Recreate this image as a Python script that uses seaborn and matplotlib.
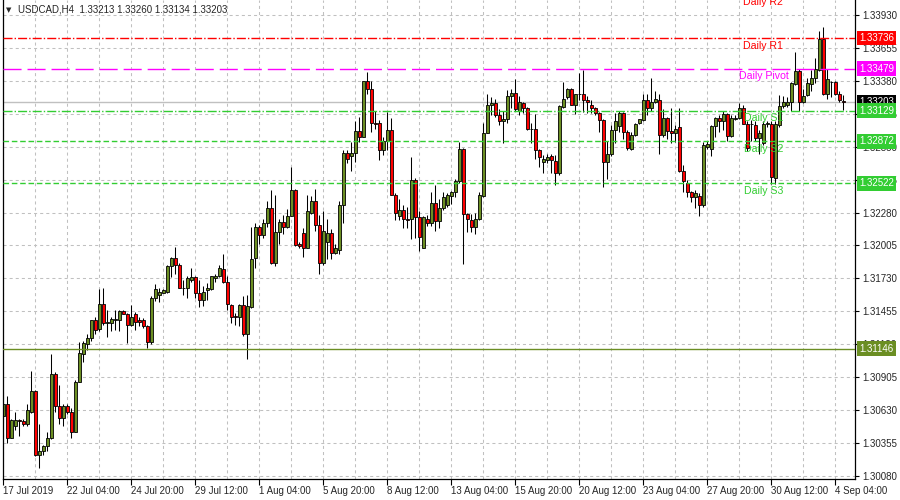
import matplotlib
matplotlib.use('Agg')
import numpy as np
import seaborn as sns
import matplotlib.pyplot as plt

# USDCAD H4 candles
opens = [
    1.3058, 1.3068, 1.3040, 1.3050, 1.3055, 1.3054, 1.3052, 1.3062, 1.3079, 1.3026,
    1.3029, 1.3033, 1.3040, 1.3093, 1.3067, 1.3057, 1.3067, 1.3062, 1.3045, 1.3087,
    1.3110, 1.3118, 1.3123, 1.3138, 1.3131, 1.3152, 1.3136, 1.3136, 1.3138, 1.3138,
    1.3146, 1.3143, 1.3134, 1.3143, 1.3138, 1.3138, 1.3133, 1.3120, 1.3157, 1.3159,
    1.3161, 1.3162, 1.3183, 1.3190, 1.3184, 1.3165, 1.3165, 1.3172, 1.3174, 1.3161,
    1.3155, 1.3163, 1.3164, 1.3173, 1.3175, 1.3181, 1.3170, 1.3151, 1.3142, 1.3141,
    1.3151, 1.3127, 1.3149, 1.3190, 1.3216, 1.3209, 1.3219, 1.3232, 1.3186, 1.3212,
    1.3220, 1.3216, 1.3225, 1.3247, 1.3202, 1.3211, 1.3198, 1.3228, 1.3238, 1.3218,
    1.3186, 1.3203, 1.3211, 1.3194, 1.3197, 1.3234, 1.3278, 1.3275, 1.3278, 1.3296,
    1.3291, 1.3338, 1.3331, 1.3303, 1.3303, 1.3280, 1.3288, 1.3297, 1.3243, 1.3225,
    1.3230, 1.3223, 1.3223, 1.3255, 1.3224, 1.3198, 1.3223, 1.3219, 1.3236, 1.3221,
    1.3232, 1.3234, 1.3242, 1.3245, 1.3254, 1.3281, 1.3227, 1.3222, 1.3216, 1.3223,
    1.3242, 1.3294, 1.3318, 1.3319, 1.3309, 1.3304, 1.3306, 1.3325, 1.3328, 1.3313,
    1.3319, 1.3315, 1.3298, 1.3298, 1.3280, 1.3270, 1.3272, 1.3275, 1.3271, 1.3261,
    1.3316, 1.3324, 1.3331, 1.3318, 1.3327, 1.3327, 1.3322, 1.3318, 1.3315, 1.3311,
    1.3305, 1.3270, 1.3277, 1.3297, 1.3300, 1.3311, 1.3295, 1.3281, 1.3293, 1.3303,
    1.3305, 1.3322, 1.3315, 1.3320, 1.3322, 1.3293, 1.3307, 1.3296, 1.3294, 1.3299,
    1.3263, 1.3253, 1.3245, 1.3241, 1.3242, 1.3234, 1.3283, 1.3281, 1.3300, 1.3307,
    1.3304, 1.3310, 1.3292, 1.3306, 1.3307, 1.3315, 1.3302, 1.3302, 1.3301, 1.3290,
    1.3286, 1.3302, 1.3302, 1.3257, 1.3301, 1.3317, 1.3318, 1.3320, 1.3335, 1.3346,
    1.3320, 1.3326, 1.3335, 1.3340, 1.3347, 1.3373, 1.3327, 1.3337, 1.3337, 1.3327,
    1.33213,
]
highs = [
    1.3078, 1.3075, 1.3056, 1.3062, 1.3056, 1.3056, 1.3068, 1.3096, 1.3080, 1.3052,
    1.3034, 1.3045, 1.3110, 1.3095, 1.3084, 1.3068, 1.3068, 1.3065, 1.3088, 1.3120,
    1.3121, 1.3127, 1.3138, 1.3141, 1.3164, 1.3165, 1.3147, 1.3141, 1.3147, 1.3147,
    1.3147, 1.3144, 1.3151, 1.3145, 1.3141, 1.3140, 1.3134, 1.3158, 1.3168, 1.3165,
    1.3164, 1.3184, 1.3191, 1.3199, 1.3186, 1.3172, 1.3175, 1.3182, 1.3175, 1.3172,
    1.3167, 1.3169, 1.3175, 1.3177, 1.3184, 1.3193, 1.3175, 1.3152, 1.3144, 1.3152,
    1.3158, 1.3159, 1.3216, 1.3219, 1.3218, 1.3223, 1.3238, 1.3247, 1.3243, 1.3223,
    1.3226, 1.3231, 1.3266, 1.3248, 1.3203, 1.3215, 1.3243, 1.3242, 1.3248, 1.3226,
    1.3229, 1.3223, 1.3214, 1.3202, 1.3238, 1.3280, 1.3280, 1.3287, 1.3304, 1.3308,
    1.3338, 1.3345, 1.3338, 1.3313, 1.3305, 1.3291, 1.3312, 1.3307, 1.3244, 1.3239,
    1.3234, 1.3233, 1.3274, 1.3257, 1.3229, 1.3225, 1.3226, 1.3245, 1.3251, 1.3239,
    1.3245, 1.3244, 1.3246, 1.3256, 1.3287, 1.3282, 1.3228, 1.3227, 1.3228, 1.3245,
    1.3303, 1.3327, 1.3324, 1.3323, 1.3314, 1.3313, 1.3330, 1.3331, 1.3339, 1.3325,
    1.3320, 1.3316, 1.3303, 1.3310, 1.3281, 1.3276, 1.3277, 1.3277, 1.3276, 1.3318,
    1.3337, 1.3332, 1.3332, 1.3327, 1.3344, 1.3347, 1.3325, 1.3322, 1.3316, 1.3312,
    1.3306, 1.3288, 1.3301, 1.3311, 1.3313, 1.3312, 1.3297, 1.3295, 1.3303, 1.3306,
    1.3327, 1.3327, 1.3340, 1.3329, 1.3327, 1.3314, 1.3308, 1.3315, 1.3301, 1.3315,
    1.3268, 1.3255, 1.3246, 1.3247, 1.3244, 1.3287, 1.3288, 1.3301, 1.3308, 1.3309,
    1.3313, 1.3311, 1.3309, 1.3309, 1.3319, 1.3318, 1.3304, 1.3305, 1.3304, 1.3297,
    1.3304, 1.3304, 1.3304, 1.3304, 1.3326, 1.3325, 1.3324, 1.3337, 1.3362, 1.3348,
    1.3331, 1.3340, 1.3347, 1.3357, 1.3379, 1.3383, 1.3348, 1.3338, 1.3338, 1.3329,
    1.33260,
]
lows = [
    1.3053, 1.3036, 1.3040, 1.3047, 1.3042, 1.3050, 1.3050, 1.3061, 1.3025, 1.3015,
    1.3026, 1.3029, 1.3039, 1.3062, 1.3052, 1.3050, 1.3060, 1.3040, 1.3045, 1.3087,
    1.3103, 1.3113, 1.3121, 1.3127, 1.3129, 1.3134, 1.3124, 1.3129, 1.3130, 1.3129,
    1.3143, 1.3119, 1.3133, 1.3130, 1.3133, 1.3132, 1.3115, 1.3118, 1.3154, 1.3153,
    1.3161, 1.3161, 1.3174, 1.3177, 1.3165, 1.3159, 1.3157, 1.3170, 1.3157, 1.3149,
    1.3150, 1.3155, 1.3163, 1.3170, 1.3174, 1.3169, 1.3147, 1.3136, 1.3134, 1.3133,
    1.3125, 1.3106, 1.3148, 1.3182, 1.3202, 1.3207, 1.3216, 1.3185, 1.3183, 1.3202,
    1.3210, 1.3215, 1.3225, 1.3200, 1.3198, 1.3191, 1.3198, 1.3227, 1.3213, 1.3177,
    1.3184, 1.3189, 1.3189, 1.3193, 1.3193, 1.3219, 1.3269, 1.3263, 1.3270, 1.3287,
    1.3291, 1.3327, 1.3295, 1.3298, 1.3272, 1.3276, 1.3280, 1.3243, 1.3222, 1.3222,
    1.3215, 1.3215, 1.3206, 1.3207, 1.3196, 1.3198, 1.3217, 1.3217, 1.3213, 1.3215,
    1.3230, 1.3233, 1.3235, 1.3241, 1.3253, 1.3185, 1.3212, 1.3212, 1.3210, 1.3222,
    1.3241, 1.3294, 1.3309, 1.3308, 1.3301, 1.3286, 1.3303, 1.3315, 1.3313, 1.3309,
    1.3311, 1.3297, 1.3286, 1.3273, 1.3266, 1.3261, 1.3269, 1.3261, 1.3251, 1.3259,
    1.3315, 1.3323, 1.3318, 1.3310, 1.3322, 1.3312, 1.3311, 1.3311, 1.3309, 1.3295,
    1.3249, 1.3256, 1.3275, 1.3286, 1.3295, 1.3289, 1.3280, 1.3280, 1.3292, 1.3302,
    1.3304, 1.3309, 1.3313, 1.3319, 1.3277, 1.3291, 1.3289, 1.3286, 1.3287, 1.3262,
    1.3245, 1.3241, 1.3237, 1.3232, 1.3225, 1.3233, 1.3281, 1.3275, 1.3291, 1.3295,
    1.3297, 1.3288, 1.3291, 1.3305, 1.3306, 1.3302, 1.3279, 1.3288, 1.3288, 1.3277,
    1.3284, 1.3299, 1.3252, 1.3252, 1.3299, 1.3315, 1.3316, 1.3313, 1.3334, 1.3313,
    1.3319, 1.3325, 1.3329, 1.3336, 1.3346, 1.3326, 1.3323, 1.3324, 1.3326, 1.3320,
    1.33134,
]
closes = [
    1.3068, 1.3040, 1.3055, 1.3055, 1.3054, 1.3052, 1.3063, 1.3079, 1.3026, 1.3029,
    1.3033, 1.3040, 1.3093, 1.3067, 1.3057, 1.3067, 1.3062, 1.3045, 1.3087, 1.3111,
    1.3119, 1.3123, 1.3138, 1.3130, 1.3152, 1.3136, 1.3137, 1.3139, 1.3139, 1.3146,
    1.3143, 1.3134, 1.3141, 1.3137, 1.3137, 1.3133, 1.3120, 1.3157, 1.3164, 1.3162,
    1.3163, 1.3183, 1.3190, 1.3184, 1.3165, 1.3165, 1.3173, 1.3174, 1.3161, 1.3155,
    1.3162, 1.3165, 1.3175, 1.3175, 1.3182, 1.3170, 1.3152, 1.3141, 1.3141, 1.3151,
    1.3127, 1.3150, 1.3189, 1.3216, 1.3209, 1.3219, 1.3232, 1.3186, 1.3212, 1.3220,
    1.3216, 1.3225, 1.3247, 1.3201, 1.3200, 1.3198, 1.3229, 1.3238, 1.3218, 1.3186,
    1.3213, 1.3211, 1.3194, 1.3198, 1.3234, 1.3278, 1.3273, 1.3278, 1.3296, 1.3291,
    1.3338, 1.3331, 1.3303, 1.3302, 1.3280, 1.3288, 1.3297, 1.3243, 1.3228, 1.3230,
    1.3223, 1.3222, 1.3255, 1.3224, 1.3208, 1.3224, 1.3219, 1.3236, 1.3221, 1.3232,
    1.3241, 1.3243, 1.3245, 1.3254, 1.3281, 1.3227, 1.3223, 1.3216, 1.3223, 1.3243,
    1.3294, 1.3318, 1.3319, 1.3309, 1.3304, 1.3306, 1.3325, 1.3328, 1.3314, 1.3320,
    1.3315, 1.3298, 1.3298, 1.3280, 1.3274, 1.3273, 1.3274, 1.3272, 1.3261, 1.3317,
    1.3323, 1.3331, 1.3318, 1.3327, 1.3327, 1.3322, 1.3320, 1.3315, 1.3311, 1.3305,
    1.3270, 1.3277, 1.3297, 1.3304, 1.3311, 1.3295, 1.3282, 1.3293, 1.3302, 1.3306,
    1.3322, 1.3315, 1.3320, 1.3323, 1.3293, 1.3307, 1.3296, 1.3294, 1.3298, 1.3263,
    1.3254, 1.3245, 1.3241, 1.3244, 1.3234, 1.3284, 1.3285, 1.3300, 1.3307, 1.3304,
    1.3310, 1.3292, 1.3307, 1.3307, 1.3315, 1.3302, 1.3282, 1.3302, 1.3290, 1.3294,
    1.3302, 1.3303, 1.3258, 1.3302, 1.3317, 1.3320, 1.3320, 1.3336, 1.3346, 1.3320,
    1.3325, 1.3336, 1.3340, 1.3348, 1.3373, 1.3327, 1.3339, 1.3337, 1.3327, 1.3322,
    1.33203,
]

date_labels = ['17 Jul 2019', '22 Jul 04:00', '24 Jul 20:00', '29 Jul 12:00',
               '1 Aug 04:00', '5 Aug 20:00', '8 Aug 12:00', '13 Aug 04:00',
               '15 Aug 20:00', '20 Aug 12:00', '23 Aug 04:00', '27 Aug 20:00',
               '30 Aug 12:00', '4 Sep 04:00']
price_ticks = [1.33930, 1.33655, 1.33380, 1.33105, 1.32830, 1.32555, 1.32280,
               1.32005, 1.31730, 1.31455, 1.31180, 1.30905, 1.30630, 1.30355, 1.30080]

level_names = ['Daily R2', 'Daily R1', 'Daily Pivot', 'Daily S1', 'Daily S2', 'Daily S3']
level_prices = [1.34100, 1.33736, 1.33479, 1.33129, 1.32872, 1.32522]
support_price = 1.31146

RED = '#FF0000'
MAGENTA = '#FF00FF'
LIME = '#32CD32'
OLIVE = '#6B8E23'
GRID = '#C0C0C0'

sns.set_theme(style='white')
plt.rcParams['font.family'] = ['Liberation Sans', 'DejaVu Sans']
plt.rcParams['lines.scale_dashes'] = False
FS = 7

fig = plt.figure(figsize=(9, 5), dpi=100)
ax = fig.add_axes([2.7 / 900, 21 / 500, 852.3 / 900, 479 / 500])

o = np.array(opens)
h = np.array(highs)
l = np.array(lows)
c = np.array(closes)
x = np.arange(len(c))
up = c >= o

ax.vlines(x, l, h, color='black', linewidth=0.75, zorder=2)
ax.bar(x, c - o, bottom=o, width=0.72,
       color=np.where(up, OLIVE, RED), edgecolor='black', linewidth=0.6, zorder=2)

# pivot levels
styles = {
    'Daily R2': (RED, (0, (6.5, 1.5, 1, 1.5))),
    'Daily R1': (RED, (0, (6.5, 1.5, 1, 1.5))),
    'Daily Pivot': (MAGENTA, (0, (13, 4.3))),
    'Daily S1': (LIME, (0, (6.5, 1.5, 1, 1.5))),
    'Daily S2': (LIME, (0, (4, 2))),
    'Daily S3': (LIME, (0, (4, 2))),
}
for name, price in zip(level_names, level_prices):
    col, ls = styles[name]
    ax.axhline(price, color=col, linestyle=ls, linewidth=1.0, zorder=3)
    ax.annotate(name, xy=(190, price), xytext=(0, -2), textcoords='offset points',
                ha='center', va='top', color=col, fontsize=7.6, zorder=4,
                annotation_clip=False)

ax.axhline(support_price, color=OLIVE, linewidth=1.0, zorder=3)
ax.axhline(c[-1], color=GRID, linewidth=1.0, zorder=1)

ax.set_xlim(-0.16, 212.9)
ax.set_ylim(1.30059, 1.34051)

ax.set_xticks(np.arange(0, 16 * len(date_labels), 16))
ax.set_xticklabels(date_labels, ha='left', fontsize=FS)
ax.set_xticks(np.arange(0, 213, 8), minor=True)
ax.yaxis.tick_right()
ax.set_yticks(price_ticks)
ax.set_yticklabels([f'{p:.5f}' for p in price_ticks], fontsize=FS)
ax.tick_params(axis='x', which='major', length=4, width=0.8, pad=1, color='black', bottom=True)
ax.tick_params(axis='x', which='minor', length=0)
ax.tick_params(axis='y', length=3, width=0.8, pad=2, color='black', right=True, left=False)

ax.grid(True, axis='x', which='both', color=GRID, linestyle=(0, (2.2, 2.2)), linewidth=0.75, zorder=0)
ax.grid(True, axis='y', which='major', color=GRID, linestyle=(0, (2.2, 2.2)), linewidth=0.75, zorder=0)
ax.set_axisbelow(True)

for side in ['left', 'right', 'bottom']:
    ax.spines[side].set_color('black')
    ax.spines[side].set_linewidth(0.9)
ax.spines['top'].set_visible(False)

# price boxes on the right scale
boxes = [(level_prices[1], RED), (level_prices[2], MAGENTA), (c[-1], 'black'),
         (level_prices[3], LIME), (level_prices[4], LIME), (level_prices[5], LIME),
         (support_price, OLIVE)]
for price, col in boxes:
    ax.annotate(f'{price:.5f}', xy=(1, price), xycoords=('axes fraction', 'data'),
                xytext=(3, 0), textcoords='offset points', ha='left', va='center',
                color='white', fontsize=FS, annotation_clip=False, zorder=5,
                bbox=dict(boxstyle='square,pad=0.22', fc=col, ec='none'))

fig.text(6 / 900, 1 - 10 / 500, '\u25bc', fontsize=5, va='center', ha='left',
         family=['DejaVu Sans'])
fig.text(18 / 900, 1 - 10 / 500, 'USDCAD,H4  1.33213 1.33260 1.33134 1.33203',
         fontsize=FS, va='center', ha='left')

fig.savefig('out.png', dpi=100, facecolor='white')
